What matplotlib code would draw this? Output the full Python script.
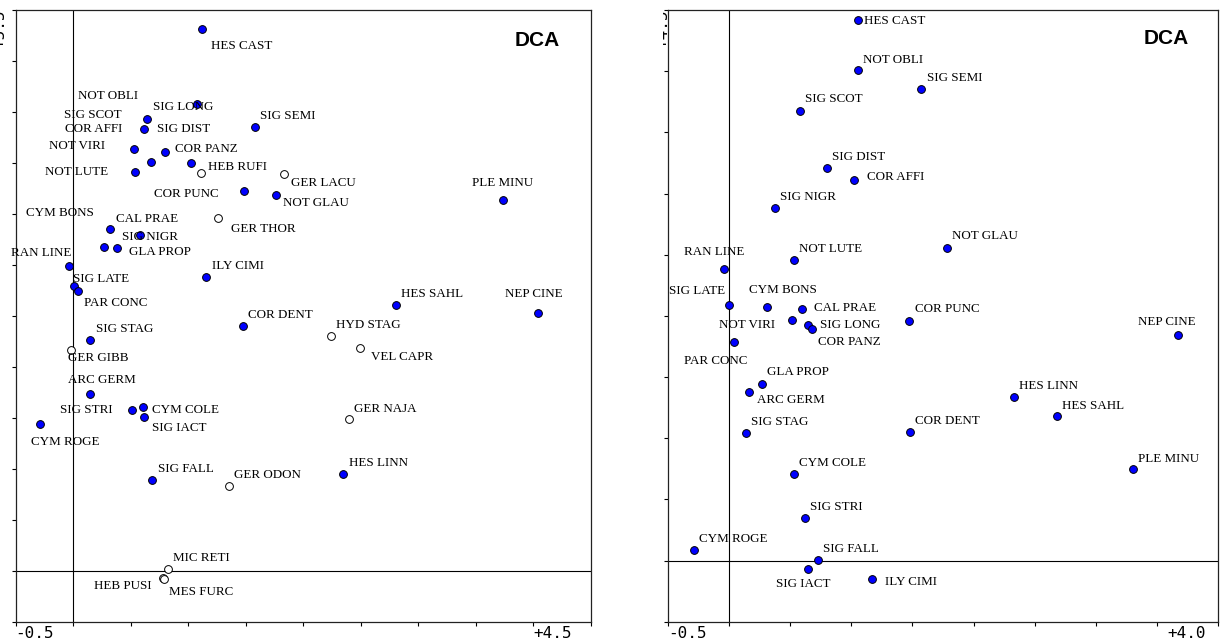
import matplotlib
matplotlib.use("Agg")
import matplotlib.pyplot as plt
from matplotlib.transforms import Bbox
import numpy as np

# ---- left panel data (DCA, with open symbols) ----
left_names = ["HES CAST", "SIG LONG", "SIG SCOT", "COR AFFI", "SIG SEMI", "NOT VIRI",
              "COR PANZ", "NOT OBLI", "SIG DIST", "HEB RUFI", "NOT LUTE", "GER LACU",
              "COR PUNC", "NOT GLAU", "PLE MINU", "GER THOR", "CAL PRAE", "SIG NIGR",
              "CYM BONS", "GLA PROP", "RAN LINE", "ILY CIMI", "SIG LATE", "PAR CONC",
              "HES SAHL", "NEP CINE", "COR DENT", "HYD STAG", "SIG STAG", "GER GIBB",
              "VEL CAPR", "ARC GERM", "SIG STRI", "CYM COLE", "SIG IACT", "GER NAJA",
              "CYM ROGE", "SIG FALL", "GER ODON", "HES LINN", "MIC RETI", "HEB PUSI",
              "MES FURC"]
left_x = [1.123, 1.079, 0.642, 0.616, 1.581, 0.529, 0.796, 0.674, 1.024, 1.114, 0.535,
          1.833, 1.483, 1.766, 3.740, 1.262, 0.320, 0.581, 0.265, 0.381, -0.037, 1.155,
          0.007, 0.039, 2.804, 4.044, 1.474, 2.242, 0.146, -0.022, 2.494, 0.146, 0.511,
          0.610, 0.616, 2.396, -0.289, 0.688, 1.352, 2.349, 0.822, 0.783, 0.792]
left_y = [5.310, 4.578, 4.434, 4.335, 4.355, 4.136, 4.110, 4.009, 3.996, 3.904, 3.912,
          3.894, 3.727, 3.682, 3.636, 3.457, 3.355, 3.290, 3.172, 3.165, 2.992, 2.878,
          2.793, 2.744, 2.609, 2.531, 2.403, 2.302, 2.263, 2.165, 2.181, 1.730, 1.576,
          1.609, 1.505, 1.488, 1.436, 0.887, 0.834, 0.949, 0.014, -0.069, -0.081]
left_open = ["HEB RUFI", "GER LACU", "GER THOR", "HYD STAG", "GER GIBB", "VEL CAPR",
             "GER NAJA", "GER ODON", "MIC RETI", "HEB PUSI", "MES FURC"]

# ---- right panel data ----
right_names = ["HES CAST", "NOT OBLI", "SIG SEMI", "SIG SCOT", "SIG DIST", "COR AFFI",
               "SIG NIGR", "RAN LINE", "NOT LUTE", "NOT GLAU", "SIG LATE", "CYM BONS",
               "CAL PRAE", "COR PUNC", "NOT VIRI", "SIG LONG", "COR PANZ", "PAR CONC",
               "GLA PROP", "ARC GERM", "SIG STAG", "COR DENT", "CYM COLE", "SIG STRI",
               "CYM ROGE", "SIG FALL", "SIG IACT", "ILY CIMI", "NEP CINE", "HES LINN",
               "HES SAHL", "PLE MINU"]
right_x = [1.051, 1.051, 1.569, 0.576, 0.797, 1.023, 0.376, -0.047, 0.529, 1.780, -0.003,
           0.308, 0.592, 1.473, 0.515, 0.641, 0.677, 0.040, 0.267, 0.158, 0.133, 1.477,
           0.529, 0.619, -0.287, 0.728, 0.646, 1.170, 3.672, 2.333, 2.686, 3.303]
right_y = [4.417, 4.007, 3.857, 3.672, 3.205, 3.107, 2.878, 2.387, 2.455, 2.551, 2.092,
           2.073, 2.054, 1.958, 1.962, 1.926, 1.893, 1.790, 1.440, 1.377, 1.045, 1.053,
           0.704, 0.346, 0.090, 0.002, -0.068, -0.150, 1.844, 1.334, 1.181, 0.745]

# label placement (ha, dx px, dy px) - layout only
left_lab = [("left", 9, -17), ("left", -44, -3), ("right", -25, 4), ("right", -22, 0),
            ("left", 5, 11), ("right", -29, 3), ("left", 10, 3), ("right", -13, 66),
            ("left", -34, 34), ("left", 7, 6), ("right", -27, 0), ("left", 7, -9),
            ("right", -25, -3), ("left", 7, -8), ("center", -1, 17), ("left", 13, -11),
            ("left", 6, 10), ("left", -18, -2), ("right", -10, 34), ("left", 12, -4),
            ("right", 2, 13), ("left", 6, 11), ("left", -1, 7), ("left", 6, -12),
            ("left", 5, 11), ("center", -4, 19), ("left", 5, 11), ("left", 5, 11),
            ("left", 6, 11), ("left", -3, -8), ("left", 11, -9), ("center", 12, 14),
            ("right", -19, 0), ("left", 9, -3), ("left", 8, -11), ("left", 5, 10),
            ("left", -9, -18), ("left", 6, 11), ("left", 5, 11), ("left", 6, 11),
            ("left", 5, 11), ("right", -12, -8), ("left", 5, -13)]
right_lab = [("left", 6, -1), ("left", 5, 10), ("left", 6, 11), ("left", 5, 12),
             ("left", 5, 11), ("left", 13, 3), ("left", 5, 11), ("center", -9, 17),
             ("left", 5, 11), ("left", 5, 12), ("right", -4, 14), ("center", 16, 17),
             ("left", 12, 1), ("left", 6, 12), ("right", -17, -5), ("left", 12, 0),
             ("left", 6, -13), ("center", -19, -19), ("left", 5, 12), ("left", 8, -8),
             ("left", 5, 11), ("left", 5, 11), ("left", 5, 11), ("left", 5, 11),
             ("left", 5, 11), ("left", 5, 11), ("center", -5, -15), ("left", 13, -3),
             ("center", -11, 13), ("left", 5, 11), ("left", 5, 10), ("left", 5, 10)]

left_range = ((-0.5, 4.5), (-0.5, 5.5))
right_range = ((-0.5, 4.0), (-0.5, 4.5))
left_ticklabels = ["-0.5", "+4.5", "+5.5"]
right_ticklabels = ["-0.5", "+4.0", "+4.5"]

W, H = 1222, 644
fig = plt.figure(figsize=(W / 100, H / 100), dpi=100)


def draw_panel(rect, names, xs, ys, labs, rng, ticklabels, open_set, right_lbl_x, dca_pos):
    ax = fig.add_axes(rect)
    (x0, x1), (y0, y1) = rng
    ax.set_xlim(x0, x1)
    ax.set_ylim(y0, y1)
    ax.set_xticks(np.arange(x0, x1 + 0.01, 0.5))
    ax.set_yticks(np.arange(y0, y1 + 0.01, 0.5))
    ax.set_xticklabels([])
    ax.set_yticklabels([])
    ax.tick_params(direction="out", length=3, width=0.8, top=False, right=False)
    for sp in ax.spines.values():
        sp.set_linewidth(0.9)
        sp.set_color("#222222")
    ax.axhline(0, color="black", lw=0.8, zorder=1)
    ax.axvline(0, color="black", lw=0.8, zorder=1)

    for name, x, y, (ha, dx, dy) in zip(names, xs, ys, labs):
        is_open = name in open_set
        ax.plot(x, y, "o", ms=5.6, mec="black", mew=0.7,
                mfc="white" if is_open else "#0000ff", zorder=3)
        ax.annotate(name, (x, y), xytext=(dx, dy), textcoords="offset pixels",
                    ha=ha, va="center", fontsize=9.4, family="Liberation Serif",
                    zorder=4)

    ax.text(dca_pos[0], dca_pos[1], "DCA", transform=ax.transAxes, ha="center",
            va="center", fontsize=15, fontweight="bold", family="Liberation Sans")
    ax.text(0.0, -0.02, ticklabels[0], transform=ax.transAxes, ha="left", va="center",
            fontsize=11.5, family="DejaVu Sans Mono")
    ax.text(right_lbl_x, -0.02, ticklabels[1], transform=ax.transAxes, ha="right",
            va="center", fontsize=11.5, family="DejaVu Sans Mono")
    return ax


bottom = 22.3 / H
height = 611.7 / H
draw_panel([15.7 / W, bottom, 575 / W, height], left_names, left_x, left_y, left_lab,
           left_range, left_ticklabels, left_open, 0.967, (0.907, 0.950))
draw_panel([668.3 / W, bottom, 549.4 / W, height], right_names, right_x, right_y,
           right_lab, right_range, right_ticklabels, [], 0.979, (0.9055, 0.954))

# vertical axis-range labels, cut off at each panel's left edge as in the source
for x_px, clip_px, lbl in [(7, 0, left_ticklabels[2]), (670, 663, right_ticklabels[2])]:
    t = fig.text(x_px / W, 1 - 9 / H, lbl, rotation=90, ha="right", va="top",
                 fontsize=11.5, family="DejaVu Sans Mono")
    t.set_clip_box(Bbox.from_extents(clip_px, 0, clip_px + 20, H))
    t.set_clip_on(True)

fig.savefig("out.png", dpi=100)
